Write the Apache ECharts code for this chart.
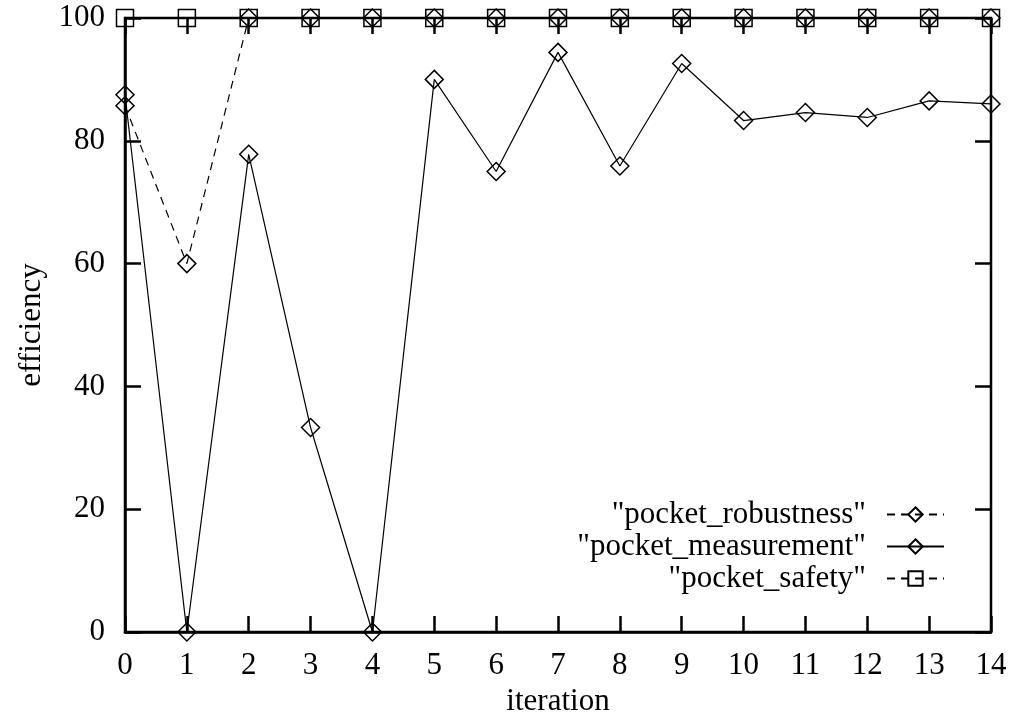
<!DOCTYPE html>
<html>
<head>
<meta charset="utf-8">
<script src="https://cdn.jsdelivr.net/npm/echarts@6/dist/echarts.min.js"></script>
<style>
  html, body { margin: 0; padding: 0; background: #fff; }
  #chart { width: 1011px; height: 713px; }
</style>
</head>
<body>
<div id="chart"></div>
<script>
var iterations = [0, 1, 2, 3, 4, 5, 6, 7, 8, 9, 10, 11, 12, 13, 14];
var robustness = [85.7, 60, 100, 100, 100, 100, 100, 100, 100, 100, 100, 100, 100, 100, 100];
var measurement = [87.5, 0, 77.8, 33.3, 0, 90, 75, 94.4, 75.9, 92.6, 83.3, 84.6, 83.8, 86.5, 86];
var safety = [100, 100, 100, 100, 100, 100, 100, 100, 100, 100, 100, 100, 100, 100, 100];

var font = "Liberation Serif";
var fsize = 31;

function pairs(vals) {
  return iterations.map(function (x, i) { return [x, vals[i]]; });
}

var myChart = echarts.init(document.getElementById("chart"));

var tickStyle = { inside: true, length: 16, lineStyle: { color: "#000", width: 2.5 } };

var option = {
  backgroundColor: "#fff",
  animation: false,
  grid: {
    left: 125,
    right: 20,
    top: 18,
    bottom: 81,
    outerBoundsMode: "none",
    containLabel: false,
    show: true,
    borderColor: "#000",
    borderWidth: 2.5,
  },
  legend: {
    orient: "vertical",
    align: "right",
    right: 61,
    top: 494,
    itemWidth: 57,
    itemHeight: 18,
    itemGap: 1,
    textStyle: {
      fontFamily: font,
      fontSize: fsize,
      color: "#000",
      padding: [0, 16, 0, 0],
    },
    data: ['"pocket_robustness"', '"pocket_measurement"', '"pocket_safety"'],
  },
  xAxis: [
    {
      type: "value",
      min: 0,
      max: 14,
      interval: 1,
      name: "iteration",
      nameLocation: "middle",
      nameGap: 47,
      nameTextStyle: { fontFamily: font, fontSize: fsize, color: "#000" },
      axisLine: { show: true, onZero: false, lineStyle: { color: "#000", width: 2.5 } },
      axisTick: tickStyle,
      axisLabel: { fontFamily: font, fontSize: fsize, color: "#000", margin: 18 },
      splitLine: { show: false },
    },
    {
      type: "value",
      position: "top",
      min: 0,
      max: 14,
      interval: 1,
      axisLine: { show: false, onZero: false },
      axisTick: tickStyle,
      axisLabel: { show: false },
      splitLine: { show: false },
    },
  ],
  yAxis: [
    {
      type: "value",
      min: 0,
      max: 100,
      interval: 20,
      name: "efficiency",
      nameLocation: "middle",
      nameGap: 78,
      nameTextStyle: { fontFamily: font, fontSize: fsize, color: "#000" },
      axisLine: { show: true, onZero: false, lineStyle: { color: "#000", width: 2.5 } },
      axisTick: tickStyle,
      axisLabel: { fontFamily: font, fontSize: fsize, color: "#000", margin: 20 },
      splitLine: { show: false },
    },
    {
      type: "value",
      position: "right",
      min: 0,
      max: 100,
      interval: 20,
      axisLine: { show: false, onZero: false },
      axisTick: tickStyle,
      axisLabel: { show: false },
      splitLine: { show: false },
    },
  ],
  series: [
    {
      name: '"pocket_safety"',
      type: "line",
      data: pairs(safety),
      clip: false,
      symbol: "rect",
      symbolSize: 17,
      lineStyle: { color: "#000", width: 1.2, type: [8, 6] },
      itemStyle: { color: "rgba(0,0,0,0)", borderColor: "#000", borderWidth: 1.5 },
      z: 2,
    },
    {
      name: '"pocket_robustness"',
      type: "line",
      data: pairs(robustness),
      clip: false,
      symbol: "diamond",
      symbolSize: [18, 18],
      lineStyle: { color: "#000", width: 1.2, type: [8, 6] },
      itemStyle: { color: "rgba(0,0,0,0)", borderColor: "#000", borderWidth: 1.5 },
      z: 3,
    },
    {
      name: '"pocket_measurement"',
      type: "line",
      data: pairs(measurement),
      clip: false,
      symbol: "diamond",
      symbolSize: [18, 18],
      lineStyle: { color: "#000", width: 1.2 },
      itemStyle: { color: "rgba(0,0,0,0)", borderColor: "#000", borderWidth: 1.5 },
      z: 4,
    },
  ],
};

myChart.setOption(option);
</script>
</body>
</html>
